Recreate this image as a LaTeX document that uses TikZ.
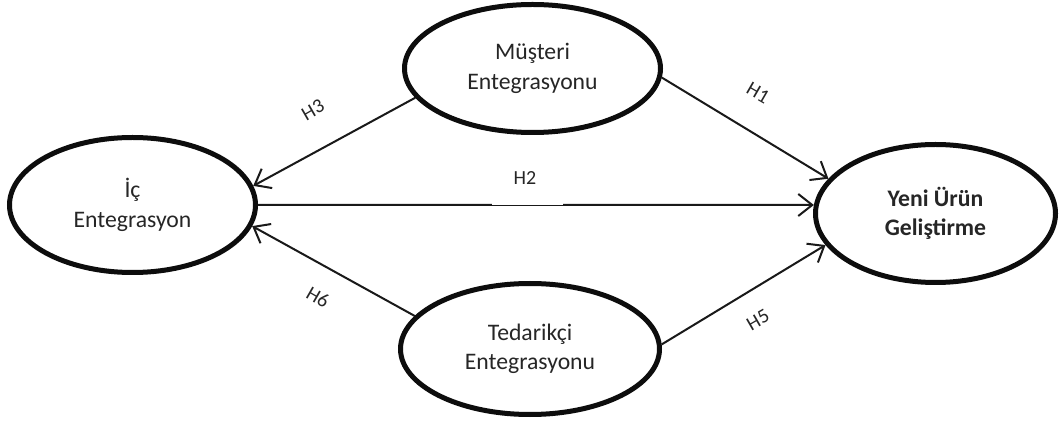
\documentclass[tikz,border=0pt]{standalone}
\usepackage{fontspec}
\setmainfont{Carlito}
\usetikzlibrary{shapes.geometric,arrows.meta}
\begin{document}
\begin{tikzpicture}[x=1pt,y=-1pt,
  construct/.style={ellipse,draw=black!95,line width=5pt,inner sep=0pt,align=center,
    text=black!85,font=\fontsize{23.7}{29.5}\selectfont},
  path/.style={line width=2pt,draw=black!90,-{Straight Barb[length=14pt,width=22pt,line width=2pt]}},
  hyp/.style={text=black!85,font=\fontsize{20}{24}\selectfont,inner sep=0pt}]
\useasboundingbox[fill=white] (0,0) rectangle (1060,427);
\node[construct,minimum width=256pt,minimum height=128pt] (T) at (532.5,68.5) {Müşteri\\Entegrasyonu};
\node[construct,minimum width=246pt,minimum height=135pt] (L) at (132.5,205) {İç\\Entegrasyon};
\node[construct,minimum width=259pt,minimum height=131pt] (B) at (530,349) {Tedarikçi\\Entegrasyonu};
\node[construct,minimum width=240pt,minimum height=138pt] (R) at (935.5,213.5) {\textbf{Yeni Ürün}\\\textbf{Geliştirme}};
\draw[path] (T.194) -- (L.9);
\draw[path] (T.-4) -- (R.162);
\draw[path] (L.east) -- (R.176);
\draw[path] (B.164.5) -- (L.-10);
\draw[path] (B.2) -- (R.196);
\fill[white] (492,197) rectangle (563,204.8);
\node[hyp] (h2) at (525,178) {H2};
\node[hyp,rotate=30] (h3) at (313,110) {H3};
\node[hyp,rotate=-30] (h1) at (758,93) {H1};
\node[hyp,rotate=-30] (h6) at (318,297) {H6};
\node[hyp,rotate=30] (h5) at (758,320) {H5};
\end{tikzpicture}
\end{document}
